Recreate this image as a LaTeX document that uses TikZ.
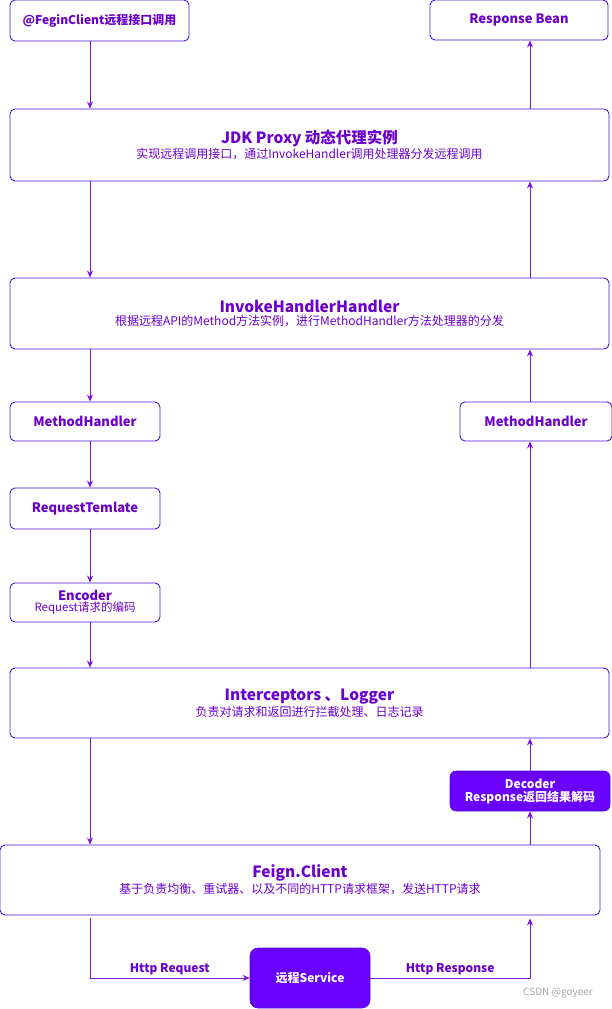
\documentclass[tikz,border=0pt]{standalone}
\usepackage{fontspec}
\setmainfont{Noto Sans CJK SC}
\usetikzlibrary{arrows.meta,calc}
\definecolor{bord}{HTML}{4A14D6}
\definecolor{txt}{HTML}{6A00CC}
\definecolor{arrc}{HTML}{7A14E0}
\definecolor{fillp}{HTML}{6A00FF}
\begin{document}
\begin{tikzpicture}[x=1pt,y=1pt,
  box/.style={draw=bord,line width=0.9pt,rounded corners=5pt,fill=white,text=txt,align=center,inner sep=0pt},
  sbox/.style={box,font=\bfseries\fontsize{13}{15}\selectfont},
  fbox/.style={draw=bord,line width=0.6pt,rounded corners=6pt,fill=fillp,text=white,align=center,inner sep=0pt,font=\bfseries\fontsize{12}{15}\selectfont},
  arr/.style={draw=arrc,line width=0.8pt,-{Stealth[length=7pt,width=6pt]}},
  lbl/.style={text=txt,font=\bfseries\fontsize{12}{14}\selectfont}
]
\useasboundingbox (0,0) rectangle (611,-1009);
\newcommand{\ttl}[1]{{\bfseries\fontsize{15.5}{20}\selectfont #1}}
\newcommand{\sub}[1]{{\fontsize{12}{14}\selectfont #1}}

\node[sbox,minimum width=179pt,minimum height=41pt,font=\bfseries\fontsize{12}{15}\selectfont] (fc) at (99.5,-20.5) {@FeginClient远程接口调用};
\node[sbox,minimum width=178pt,minimum height=40pt] (rb) at (519,-20) {Response Bean};
\node[box,minimum width=599pt,minimum height=72pt] (jdk) at (309.5,-145) {\ttl{JDK Proxy 动态代理实例}\\[1pt]\sub{实现远程调用接口，通过InvokeHandler调用处理器分发远程调用}};
\node[box,minimum width=599pt,minimum height=71pt] (ih) at (309.5,-313.5) {\ttl{InvokeHandlerHandler}\\[1pt]\sub{根据远程API的Method方法实例，进行MethodHandler方法处理器的分发}};
\node[sbox,minimum width=150pt,minimum height=39pt] (mhl) at (85,-421.5) {MethodHandler};
\node[sbox,minimum width=152pt,minimum height=39pt] (mhr) at (536,-421.5) {MethodHandler};
\node[sbox,minimum width=150pt,minimum height=41pt] (rt) at (85,-508.5) {RequestTemlate};
\node[box,minimum width=150pt,minimum height=39pt] (enc) at (85,-602.5) {{\bfseries\fontsize{13}{15}\selectfont Encoder}\\[-1pt]{\fontsize{11.5}{13}\selectfont Request请求的编码}};
\node[box,minimum width=599pt,minimum height=70pt] (ic) at (309.5,-703) {\ttl{Interceptors 、Logger}\\[1pt]\sub{负责对请求和返回进行拦截处理、日志记录}};
\node[fbox,minimum width=160pt,minimum height=40pt] (dec) at (530,-791) {Decoder\\[-2pt]Response返回结果解码};
\node[box,minimum width=600pt,minimum height=70pt] (fcl) at (300,-880) {\ttl{Feign.Client}\\[1pt]\sub{基于负责均衡、重试器、以及不同的HTTP请求框架，发送HTTP请求}};
\node[fbox,minimum width=120pt,minimum height=60pt,rounded corners=8pt] (svc) at (310,-978) {远程Service};

\coordinate (xl) at (90,0);
\coordinate (xr) at (530,0);

\draw[arr] (fc.south -| xl) -- (jdk.north -| xl);
\draw[arr] (jdk.north -| xr) -- (rb.south -| xr);
\draw[arr] (jdk.south -| xl) -- (ih.north -| xl);
\draw[arr] (ih.north -| xr) -- (jdk.south -| xr);
\draw[arr] (ih.south -| xl) -- (mhl.north -| xl);
\draw[arr] (mhr.north -| xr) -- (ih.south -| xr);
\draw[arr] (mhl.south -| xl) -- (rt.north -| xl);
\draw[arr] (rt.south -| xl) -- (enc.north -| xl);
\draw[arr] (enc.south -| xl) -- (ic.north -| xl);
\draw[arr] (ic.north -| xr) -- (mhr.south -| xr);
\draw[arr] (dec.north -| xr) -- (ic.south -| xr);
\draw[arr] (ic.south -| xl) -- (fcl.north -| xl);
\draw[arr] (fcl.north -| xr) -- (dec.south -| xr);
\draw[arr] ($(fcl.south -| xl)+(0,-3)$) |- node[lbl,pos=0.75,above=-1pt] {Http Request} (svc.west);
\draw[arr] (svc.east) -| node[lbl,pos=0.25,above=-1pt] {Http Response} ($(fcl.south -| xr)+(0,-3)$);

\node[text=gray!70,font=\fontsize{10}{12}\selectfont] (wm) at (558,-993) {CSDN @goyeer};
\end{tikzpicture}
\end{document}
